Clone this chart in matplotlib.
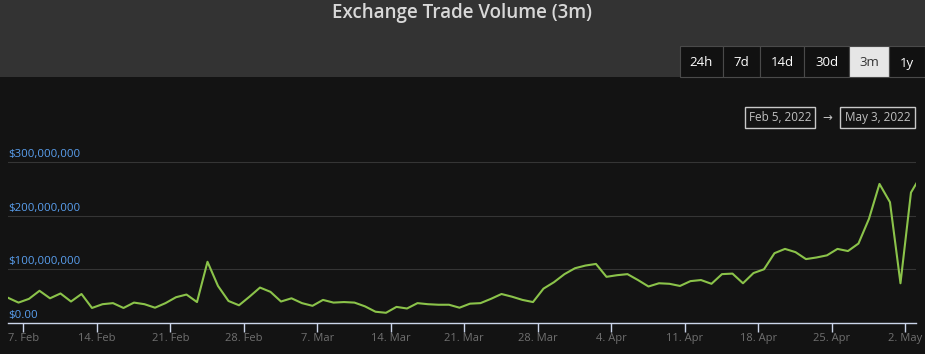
import matplotlib
matplotlib.use("Agg")
import matplotlib.pyplot as plt
import matplotlib.dates as mdates
from matplotlib.patches import Rectangle
import pandas as pd

plt.rcParams['font.family'] = ['Open Sans', 'DejaVu Sans']

# daily volume in millions of USD
volume_m = [47, 38, 45, 60, 46, 55, 40, 54, 28, 35, 37, 28, 38, 35, 28.5,
            37, 48, 53, 39, 114, 69, 41, 33, 49, 66, 58, 40, 46, 37, 32,
            43, 38, 39, 38, 31, 21, 19, 30, 27, 37, 35, 34, 34, 28.5, 36,
            37, 45, 54, 49, 43, 39, 64, 76, 91, 102, 107, 110, 86, 89,
            91, 80, 68, 74, 73, 69, 78, 80, 73, 91, 92, 74, 93, 100,
            130, 138, 132, 119, 122, 126, 138, 134, 148, 194, 259, 225, 74, 243, 276]
dates = pd.date_range('2022-02-05 13:00', periods=len(volume_m), freq='D')

y_ticks = [0, 100e6, 200e6, 300e6]
y_labels = ['$0.00', '$100,000,000', '$200,000,000', '$300,000,000']
x_ticks = pd.to_datetime(['2022-02-07', '2022-02-14', '2022-02-21', '2022-02-28',
                          '2022-03-07', '2022-03-14', '2022-03-21', '2022-03-28',
                          '2022-04-04', '2022-04-11', '2022-04-18', '2022-04-25',
                          '2022-05-02'])
x_labels = ['7. Feb', '14. Feb', '21. Feb', '28. Feb', '7. Mar', '14. Mar',
            '21. Mar', '28. Mar', '4. Apr', '11. Apr', '18. Apr', '25. Apr', '2. May']
buttons = ['24h', '7d', '14d', '30d', '3m', '1y']
selected = '3m'
range_start = 'Feb 5, 2022'
range_end = 'May 3, 2022'

W, H = 925, 354
fig = plt.figure(figsize=(W / 100, H / 100), dpi=100)

# background / header drawn in pixel coords
bg = fig.add_axes([0, 0, 1, 1], zorder=0)
bg.set_xlim(0, W)
bg.set_ylim(H, 0)
bg.axis('off')
bg.add_patch(Rectangle((0, 0), W, 77, facecolor='#333333', edgecolor='none'))
bg.add_patch(Rectangle((0, 77), W, H - 77, facecolor='#131313', edgecolor='none'))
bg.text(W / 2, 13, 'Exchange Trade Volume (3m)', ha='center', va='center',
        fontsize=13.5, fontweight='semibold', color='#d8d8d8')

btn_edges = [680, 723, 760, 804, 849, 889, 925]
for i, b in enumerate(buttons):
    x0, x1 = btn_edges[i], btn_edges[i + 1]
    sel = b == selected
    bg.add_patch(Rectangle((x0, 46), x1 - x0, 31,
                           facecolor='#e6e6e6' if sel else '#111111',
                           edgecolor='#4a4a4a', linewidth=0.8))
    bg.text((x0 + x1) / 2, 63, b, ha='center', va='center', fontsize=9.5,
            color='#333333' if sel else '#ffffff')

for (x0, x1), label in [((745, 815), range_start), ((840, 915), range_end)]:
    bg.add_patch(Rectangle((x0, 107), x1 - x0, 21, facecolor='none',
                           edgecolor='#c8c8c8', linewidth=1))
    bg.text((x0 + x1) / 2, 117.5, label, ha='center', va='center',
            fontsize=8.5, color='#c0c0c0')
bg.text(827.5, 117.5, '\u2192', ha='center', va='center', fontsize=8.5, color='#c0c0c0')

# main chart
ax = fig.add_axes([8 / W, 1 - 323 / H, 908 / W, 183 / H], zorder=1)
ax.set_facecolor('none')
ax.plot(dates, [v * 1e6 for v in volume_m], color='#8bc34a', linewidth=1.5)

ax.set_xlim(dates[0], pd.Timestamp('2022-05-03 00:30'))
ax.set_ylim(0, 340.8e6)

for s in ['top', 'right', 'left']:
    ax.spines[s].set_visible(False)
ax.spines['bottom'].set_color('#ccd6eb')
ax.spines['bottom'].set_linewidth(1)

ax.set_yticks(y_ticks)
ax.set_yticklabels([])
ax.tick_params(axis='y', length=0)
ax.yaxis.grid(True, color='#353535', linewidth=0.8)
ax.set_axisbelow(True)
for v, lab in zip(y_ticks, y_labels):
    ax.annotate(lab, xy=(0, v), xycoords=ax.get_yaxis_transform(),
                xytext=(0, 2), textcoords='offset pixels',
                ha='left', va='bottom', fontsize=8.2, color='#5aa0f0')

ax.set_xticks(mdates.date2num(x_ticks))
ax.set_xticklabels(x_labels)
ax.tick_params(axis='x', length=6.5, width=1, color='#ccd6eb', pad=1,
               labelsize=8, labelcolor='#707070')

fig.savefig('out.png', dpi=100, facecolor='#131313')
